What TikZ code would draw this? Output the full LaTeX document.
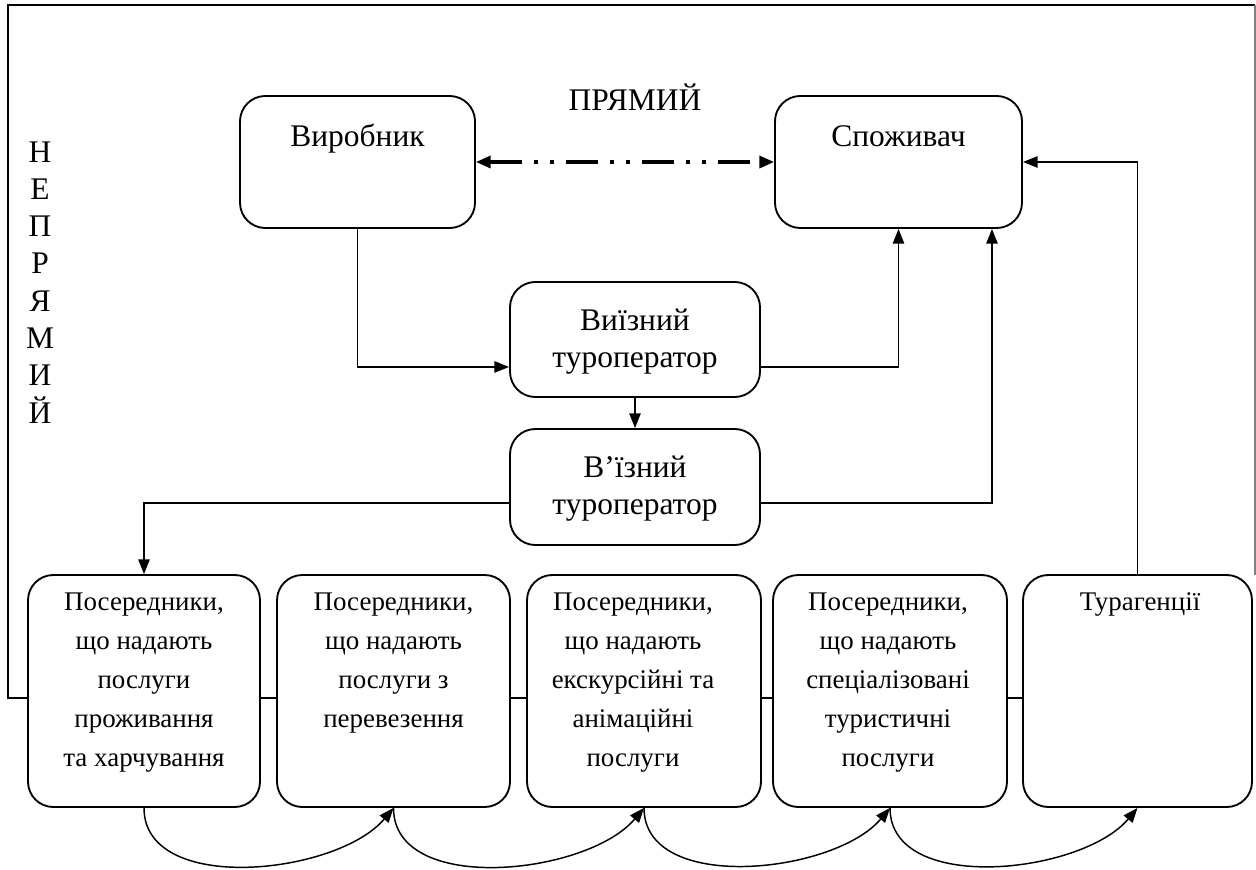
\documentclass[tikz,border=0pt]{standalone}
\usepackage{fontspec}
\setmainfont{Liberation Serif}
\usetikzlibrary{arrows.meta}
\newcommand\mlines[1]{\begin{tabular}[t]{@{}c@{}}#1\end{tabular}}
\begin{document}
\begin{tikzpicture}[x=0.75pt,y=-0.75pt,
  box/.style={draw, line width=1.4pt, rounded corners=19pt, inner sep=0pt},
  conn/.style={line width=1.1pt, -{Triangle[length=11pt,width=8.5pt]}},
  plain/.style={line width=1.1pt},
  frameline/.style={line width=1.5pt},
  dashdot/.style={line width=2.4pt, dash pattern=on 24pt off 9pt on 3pt off 9pt on 3pt off 9pt,
    {Triangle[length=11pt,width=9pt]}-{Triangle[length=11pt,width=9pt]}},
  topfont/.style={font=\fontsize{23.6}{27.75}\selectfont},
  botfont/.style={font=\fontsize{20.2}{29.25}\selectfont},
  lbl/.style={anchor=base, inner sep=0pt}]
\useasboundingbox (0,0) rectangle (1256,870);
\fill[white] (0,0) rectangle (1256,870);

% frame
\coordinate (fbl) at (8,698);
\coordinate (ftl) at (8,5);
\coordinate (ftr) at (1255,5);
\coordinate (fbr) at (1255,575);

% boxes
\node[box, minimum width=176.25pt, minimum height=99pt] (vir) at (357.5,162) {};
\node[box, minimum width=185.25pt, minimum height=99pt] (spo) at (898.5,162) {};
\node[box, minimum width=187.5pt, minimum height=86.25pt] (vyi) at (635,339.5) {};
\node[box, minimum width=187.5pt, minimum height=87pt] (vzi) at (635,487) {};
\node[box, minimum width=174pt, minimum height=174pt] (b1) at (144,691) {};
\node[box, minimum width=174.75pt, minimum height=174pt] (b2) at (393.5,691) {};
\node[box, minimum width=175.5pt, minimum height=174pt] (b3) at (644,691) {};
\node[box, minimum width=175.5pt, minimum height=174pt] (b4) at (890,691) {};
\node[box, minimum width=171.75pt, minimum height=174pt] (b5) at (1137.5,691) {};

% texts
\node[lbl, topfont] (tpr) at (635,111) {ПРЯМИЙ};
\node[lbl, topfont] (tvir) at (357.5,147) {Виробник};
\node[lbl, topfont] (tspo) at (898.5,147) {Споживач};
\node[lbl, topfont] (tvyi) at (635,330) {\mlines{Виїзний\\туроператор}};
\node[lbl, topfont] (tvzi) at (635,477) {\mlines{В’їзний\\туроператор}};
\node[lbl, font=\fontsize{23.6}{28}\selectfont] (tnp) at (40,162) {\mlines{Н\\Е\\П\\Р\\Я\\М\\И\\Й}};
\node[lbl, botfont] (t1) at (144,610) {\mlines{Посередники,\\що надають\\послуги\\проживання\\та харчування}};
\node[lbl, botfont] (t2) at (393.5,610) {\mlines{Посередники,\\що надають\\послуги з\\перевезення}};
\node[lbl, botfont] (t3) at (633,610) {\mlines{Посередники,\\що надають\\екскурсійні та\\анімаційні\\послуги}};
\node[lbl, botfont] (t4) at (888,610) {\mlines{Посередники,\\що надають\\спеціалізовані\\туристичні\\послуги}};
\node[lbl, botfont] (t5) at (1140,610) {Турагенції};

% frame lines
\draw[frameline] ([yshift=-5.25pt]b1.west) -- (fbl) -- (ftl) -- (ftr);
\draw[line width=0.8pt, black!50] (ftr) -- (fbr);
\draw[plain] ([yshift=-5.25pt]b1.east) -- ([yshift=-5.25pt]b2.west);
\draw[plain] ([yshift=-5.25pt]b2.east) -- ([yshift=-5.25pt]b3.west);
\draw[plain] ([yshift=-5.25pt]b3.east) -- ([yshift=-5.25pt]b4.west);
\draw[plain] ([yshift=-5.25pt]b4.east) -- ([yshift=-5.25pt]b5.west);

% connectors
\draw[dashdot] (vir.east) -- (spo.west);
\draw[conn] (vir.south) |- ([yshift=-20.6pt]vyi.west);
\draw[conn] ([yshift=-20.6pt]vyi.east) -| (spo.south);
\draw[conn] (vyi.south) -- (vzi.north);
\draw[conn] ([yshift=-12pt]vzi.east) -| ([xshift=70.1pt]spo.south);
\draw[conn] ([yshift=-12pt]vzi.west) -| (b1.north);
\draw[conn] (b5.north) |- (spo.east);

% bottom curves
\draw[conn] (b1.south) to[out=-90,in=-130,looseness=0.9] (b2.south);
\draw[conn] (b2.south) to[out=-90,in=-130,looseness=0.9] (b3.south);
\draw[conn] (b3.south) to[out=-90,in=-130,looseness=0.9] (b4.south);
\draw[conn] (b4.south) to[out=-90,in=-130,looseness=0.9] (b5.south);
\end{tikzpicture}
\end{document}
